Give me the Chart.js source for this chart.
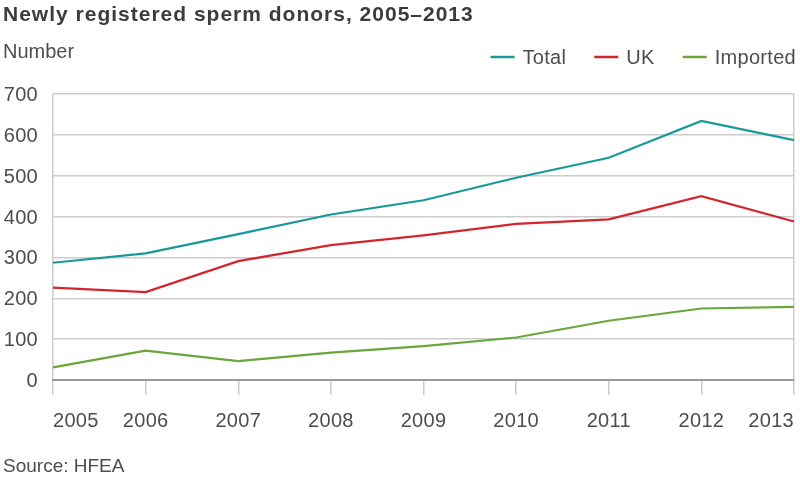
<!DOCTYPE html>
<html>
<head>
<meta charset="utf-8">
<script src="https://cdn.jsdelivr.net/npm/chart.js@4.4.1/dist/chart.umd.min.js"></script>
<style>
  html, body { margin: 0; padding: 0; background: #fff; }
  #wrap { width: 800px; height: 479px; position: relative; }
</style>
</head>
<body>
<div id="wrap"><canvas id="donorChart" width="800" height="479"></canvas></div>
<script>
const years = ['2005', '2006', '2007', '2008', '2009', '2010', '2011', '2012', '2013']
const total = [287, 310, 357, 405, 440, 495, 544, 634, 587]
const uk = [226, 215, 291, 330, 354, 382, 393, 450, 388]
const imported = [31, 72, 46, 67, 83, 104, 145, 175, 179]
const yTicks = [0, 100, 200, 300, 400, 500, 600, 700]

const FONT = '"Liberation Sans", Arial, sans-serif'
const TEXT = '#4d4d4d'

// texts, legend and tick labels drawn by hand so spacing can follow the original
const extras = {
    id: 'extras',
    afterDraw(chart) {
        const c = chart.ctx
        const xs = chart.scales.x
        const ys = chart.scales.y
        const area = chart.chartArea
        c.save()
        c.textBaseline = 'alphabetic'
        c.textAlign = 'left'

        // title
        c.font = 'bold 21px ' + FONT
        c.fillStyle = '#3c3c3c'
        c.letterSpacing = '1px'
        c.fillText('Newly registered sperm donors, 2005\u20132013', 3, 21)

        c.fillStyle = TEXT
        c.font = '20px ' + FONT
        c.letterSpacing = '0px'
        c.fillText('Number', 3, 58)

        c.font = '19px ' + FONT
        c.fillText('Source: HFEA', 3, 472)

        // x labels: first left aligned, last right aligned
        c.font = '20px ' + FONT
        c.letterSpacing = '0.3px'
        years.forEach((y, i) => {
            const px = xs.getPixelForValue(i)
            c.textAlign = i === 0 ? 'left' : (i === years.length - 1 ? 'right' : 'center')
            c.fillText(y, px, area.bottom + 47)
        })

        // y labels
        c.textAlign = 'right'
        yTicks.forEach(v => {
            c.fillText(String(v), 38, ys.getPixelForValue(v) + 7)
        })

        // legend, laid out from the right edge
        c.textAlign = 'left'
        let right = 796
        const sets = chart.data.datasets.slice().reverse()
        sets.forEach(d => {
            const w = c.measureText(d.label).width
            const tx = right - w
            const lx = tx - 32
            c.strokeStyle = d.borderColor
            c.lineWidth = 2.5
            c.beginPath()
            c.moveTo(lx, 57)
            c.lineTo(lx + 24, 57)
            c.stroke()
            c.fillText(d.label, tx, 64)
            right = lx - 28
        })
        c.restore()
    }
}

window.addEventListener('load', function () {
    const ctx = document.getElementById('donorChart').getContext('2d')
    const data = {
        labels: years,
        datasets: [
            { label: 'Total', data: total, borderColor: '#17999a', backgroundColor: '#17999a' },
            { label: 'UK', data: uk, borderColor: '#d0262c', backgroundColor: '#d0262c' },
            { label: 'Imported', data: imported, borderColor: '#6aa639', backgroundColor: '#6aa639' }
        ]
    }
    data.datasets.forEach(d => {
        d.borderWidth = 2.2
        d.pointRadius = 0
        d.tension = 0
    })

    const config = {
        type: 'line',
        data: data,
        options: {
            responsive: false,
            animation: false,
            layout: { padding: { left: 53, right: 6, top: 94, bottom: 84 } },
            plugins: {
                legend: { display: false },
                title: { display: false },
                tooltip: { enabled: false }
            },
            scales: {
                x: {
                    type: 'category',
                    offset: false,
                    grid: {
                        color: c => (c.index === 0 || c.index === years.length - 1) ? '#cccccc' : 'rgba(0,0,0,0)',
                        tickColor: '#cccccc',
                        tickLength: 15,
                        lineWidth: 1.5
                    },
                    border: { color: '#9a9a9a', width: 2 },
                    ticks: { display: false }
                },
                y: {
                    min: 0,
                    max: 700,
                    afterBuildTicks: s => { s.ticks = yTicks.map(v => ({ value: v })) },
                    grid: {
                        color: c => c.tick.value === 0 ? '#9a9a9a' : '#cccccc',
                        lineWidth: c => c.tick.value === 0 ? 2 : 1.5,
                        drawTicks: false
                    },
                    border: { display: false },
                    ticks: { display: false }
                }
            }
        },
        plugins: [extras]
    }

    new Chart(ctx, config)
})
</script>
</body>
</html>
